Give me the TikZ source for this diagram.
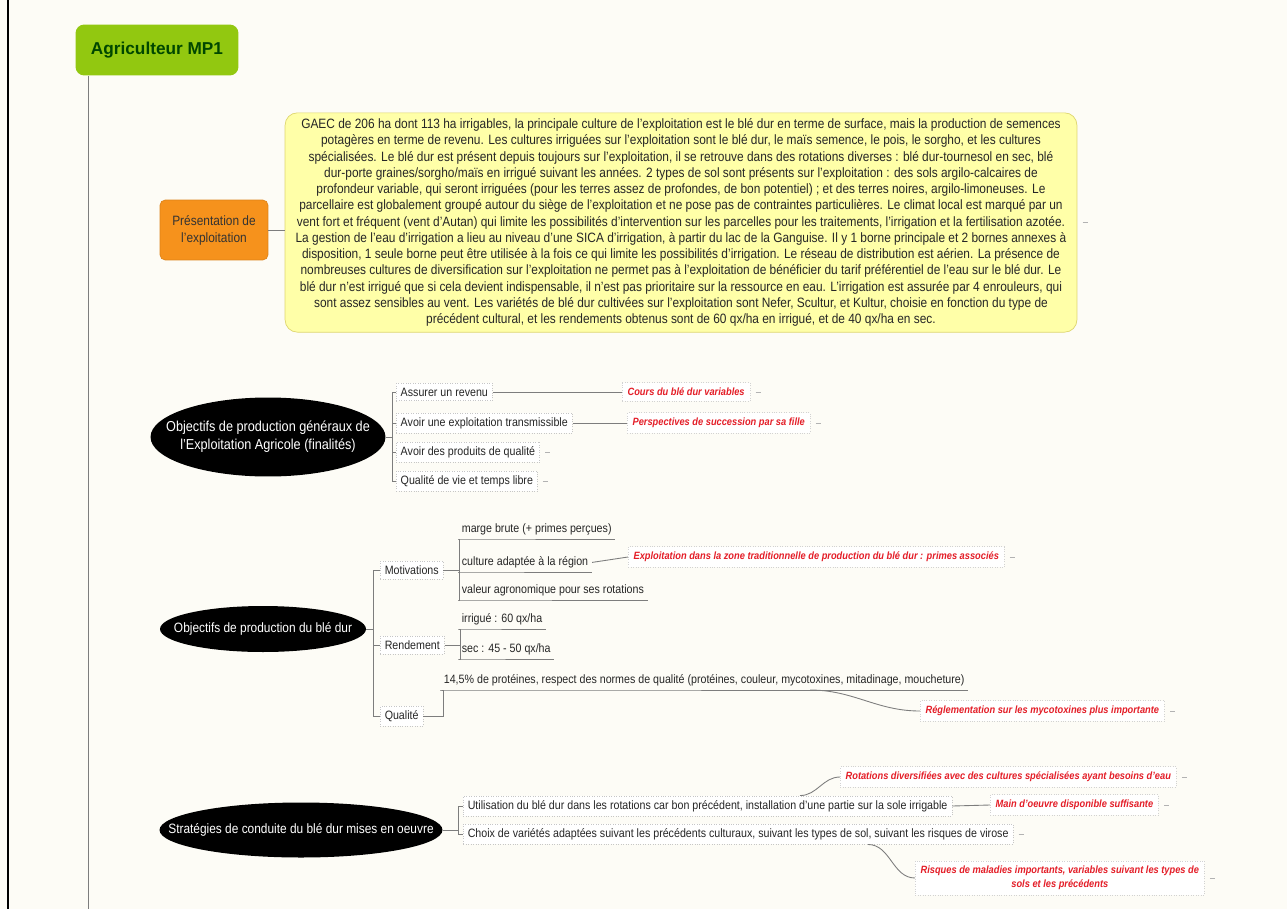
\documentclass[tikz,border=0pt]{standalone}
\usepackage{fontspec}
\setmainfont{Liberation Sans}[FakeStretch=0.88]
\newfontfamily\titlefont{Liberation Sans}
\usepackage{tikz}
\usetikzlibrary{shapes.geometric, positioning, calc}
\definecolor{mapbg}{RGB}{253,252,246}
\definecolor{titlegreen}{RGB}{146,200,16}
\definecolor{presorange}{RGB}{246,146,28}
\definecolor{notefill}{RGB}{255,255,168}
\definecolor{noteedge}{RGB}{222,214,110}
\definecolor{remred}{RGB}{228,30,40}
\definecolor{linkgray}{RGB}{125,125,125}

\begin{document}
\begin{tikzpicture}[x=0.02cm, y=-0.02cm,
    root/.style={rectangle, rounded corners=5pt, fill=titlegreen, minimum width=3.26cm,
                 minimum height=1.02cm, font=\titlefont\bfseries\fontsize{9.8}{12}\selectfont,
                 text=black!72!green},
    topic/.style={rectangle, rounded corners=3pt, fill=presorange, draw=presorange!90!black,
                  minimum width=2.16cm, minimum height=1.2cm, align=center,
                  font=\fontsize{7.7}{9.6}\selectfont, text=black!80},
    note/.style={rectangle, rounded corners=7pt, fill=notefill, draw=noteedge,
                 minimum width=15.84cm, minimum height=4.38cm, align=center,
                 font=\fontsize{7.7}{9.24}\selectfont, text=black!85},
    goal/.style={ellipse, fill=black, inner sep=0pt},
    goaltext/.style={text=white, align=center, font=\fontsize{7.7}{10}\selectfont},
    sub/.style={rectangle, draw=gray!45, densely dotted, fill=white, inner sep=2.5pt,
                anchor=west, font=\fontsize{6.9}{8.6}\selectfont, text=black!85},
    leaf/.style={inner sep=2pt, anchor=south west, font=\fontsize{6.9}{8.6}\selectfont,
                 text=black!85},
    remark/.style={rectangle, draw=gray!35, densely dotted, fill=white, inner sep=3pt,
                   anchor=west, align=center, text=remred,
                   font=\fontsize{6}{7.8}\selectfont\bfseries\itshape},
    link/.style={draw=linkgray, line width=0.5pt},
    fold/.style={draw=gray!60, line width=0.4pt}]

%% Page
\fill[mapbg] (0,0) rectangle (1287,909);
\useasboundingbox (0,0) rectangle (1287,909);
\draw[line width=1.2pt] (8,0) -- (8,909);

%% Root and trunk
\node[root] (farmer) at (157,50) {Agriculteur MP1};
\coordinate (trunkend) at (88,909);
\draw[link] (farmer.south west -| trunkend) -- (trunkend);

%% ── Présentation ─────────────────────────────────────────────────────
\node[topic] (pres) at (214,230) {Présentation de\\l'exploitation};
\node[note] (desc) at (681,222.5)
    {GAEC de 206 ha dont 113 ha irrigables, la principale culture de l'exploitation est le blé dur en terme de surface, mais la production de semences\\
     potagères en terme de revenu. Les cultures irriguées sur l'exploitation sont le blé dur, le maïs semence, le pois, le sorgho, et les cultures\\
     spécialisées. Le blé dur est présent depuis toujours sur l'exploitation, il se retrouve dans des rotations diverses : blé dur-tournesol en sec, blé\\
     dur-porte graines/sorgho/maïs en irrigué suivant les années. 2 types de sol sont présents sur l'exploitation : des sols argilo-calcaires de\\
     profondeur variable, qui seront irriguées (pour les terres assez de profondes, de bon potentiel) ; et des terres noires, argilo-limoneuses. Le\\
     parcellaire est globalement groupé autour du siège de l'exploitation et ne pose pas de contraintes particulières. Le climat local est marqué par un\\
     vent fort et fréquent (vent d'Autan) qui limite les possibilités d'intervention sur les parcelles pour les traitements, l'irrigation et la fertilisation azotée.\\
     La gestion de l'eau d'irrigation a lieu au niveau d'une SICA d'irrigation, à partir du lac de la Ganguise. Il y 1 borne principale et 2 bornes annexes à\\
     disposition, 1 seule borne peut être utilisée à la fois ce qui limite les possibilités d'irrigation. Le réseau de distribution est aérien. La présence de\\
     nombreuses cultures de diversification sur l'exploitation ne permet pas à l'exploitation de bénéficier du tarif préférentiel de l'eau sur le blé dur. Le\\
     blé dur n'est irrigué que si cela devient indispensable, il n'est pas prioritaire sur la ressource en eau. L'irrigation est assurée par 4 enrouleurs, qui\\
     sont assez sensibles au vent. Les variétés de blé dur cultivées sur l'exploitation sont Nefer, Scultur, et Kultur, choisie en fonction du type de\\
     précédent cultural, et les rendements obtenus sont de 60 qx/ha en irrigué, et de 40 qx/ha en sec.};
\draw[link] (pres.east) -- (pres.east -| desc.west);

%% ── Objectifs généraux ───────────────────────────────────────────────
\node[goal, minimum width=4.7cm, minimum height=1.58cm,
      label={[goaltext, font=\fontsize{8.2}{10.4}\selectfont]center:Objectifs de production généraux de\\l'Exploitation Agricole (finalités)}]
      (gen) at (268,437) {};
\node[sub] (income)   at (396,392) {Assurer un revenu};
\node[sub] (handover) at (396,423) {Avoir une exploitation transmissible};
\node[sub] (quality)  at (396,452) {Avoir des produits de qualité};
\node[sub] (leisure)  at (396,481) {Qualité de vie et temps libre};
\foreach \n in {income,handover,quality,leisure}
    \draw[link] (gen.east) -- ++(7,0) |- (\n.west);

\node[remark] (prices)     at (622,392) {Cours du blé dur variables};
\node[remark] (succession) at (627,423) {Perspectives de succession par sa fille};
\draw[link] (income.east) -- (prices.west);
\draw[link] (handover.east) -- (succession.west);

%% ── Objectifs blé dur ────────────────────────────────────────────────
\node[goal, minimum width=4.12cm, minimum height=0.92cm,
      label={[goaltext]center:Objectifs de production du blé dur}]
      (ble) at (263,629) {};
\node[sub] (motiv) at (380,570) {Motivations};
\node[sub] (yield) at (380,645) {Rendement};
\node[sub] (grade) at (380,716) {Qualité};
\foreach \n in {motiv,yield,grade}
    \draw[link] (ble.east) -- ++(7,0) |- (\n.west);

%% motivations
\node[leaf] (margin)  at (458,539) {marge brute (+ primes perçues)};
\node[leaf] (adapted) at (458,572) {culture adaptée à la région};
\node[leaf] (agro)    at (458,600) {valeur agronomique pour ses rotations};
\foreach \n in {margin,adapted,agro}
    \draw[link] (motiv.east) -- ++(16,0) |- (\n.south west) -- (\n.south east);

\node[remark] (zone) at (628,557)
    {Exploitation dans la zone traditionnelle de production du blé dur : primes associés};
\draw[link] (adapted.east) -- (zone.west);

%% rendement
\node[leaf] (irrig) at (458,629) {irrigué : 60 qx/ha};
\node[leaf] (dry)   at (458,659) {sec : 45 - 50 qx/ha};
\foreach \n in {irrig,dry}
    \draw[link] (yield.east) -- ++(16,0) |- (\n.south west) -- (\n.south east);

%% qualité
\node[leaf] (norms) at (440,690)
    {14,5\% de protéines, respect des normes de qualité (protéines, couleur, mycotoxines, mitadinage, moucheture)};
\draw[link] (grade.east) -- ++(20,0) |- (norms.south west) -- (norms.south east);
\node[remark] (mycotox) at (920,711) {Réglementation sur les mycotoxines plus importante};
\draw[link] ($(norms.south west)+(370,0)$) to[out=0, in=180] (mycotox.west);

%% ── Stratégies ───────────────────────────────────────────────────────
\node[goal, minimum width=5.66cm, minimum height=1.1cm,
      label={[goaltext]center:Stratégies de conduite du blé dur mises en oeuvre}]
      (strat) at (301,830) {};
\node[sub] (rotation) at (463,806)
    {Utilisation du blé dur dans les rotations car bon précédent, installation d'une partie sur la sole irrigable};
\node[sub] (variety)  at (463,834)
    {Choix de variétés adaptées suivant les précédents culturaux, suivant les types de sol, suivant les risques de virose};
\foreach \n in {rotation,variety}
    \draw[link] (strat.east) -- ++(16,0) |- (\n.west);

\node[remark] (diverse) at (840,777)
    {Rotations diversifiées avec des cultures spécialisées ayant besoins d'eau};
\node[remark] (labour)  at (990,805) {Main d'oeuvre disponible suffisante};
\node[remark] (disease) at (915,878)
    {Risques de maladies importants, variables suivant les types de\\sols et les précédents};
\draw[link] ($(rotation.north west)+(337,0)$) to[out=0, in=180] (diverse.west);
\draw[link] (rotation.east) -- (labour.west);
\draw[link] ($(variety.south west)+(405,0)$) to[out=0, in=180] (disease.west);

%% Fold marks
\foreach \n in {desc,quality,leisure,prices,succession,zone,mycotox,diverse,labour,variety,disease}
    \draw[fold] ([xshift=3pt]\n.east) -- ++(5,0);

\end{tikzpicture}
\end{document}
